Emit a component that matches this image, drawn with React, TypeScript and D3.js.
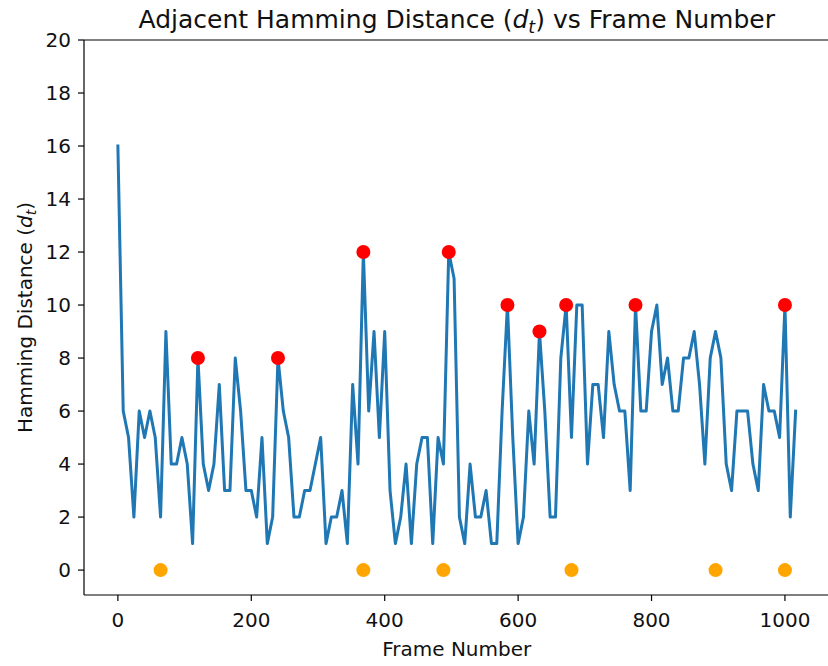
import React from "react";
import * as d3 from "d3";

// Hamming distance between adjacent sampled frames (sampled every 8 frames)
const frameStep = 8;
const hammingValues: number[] = [
  16, 6, 5, 2, 6, 5, 6, 5, 2, 9, 4, 4, 5, 4, 1, 8,
  4, 3, 4, 7, 3, 3, 8, 6, 3, 3, 2, 5, 1, 2, 8, 6,
  5, 2, 2, 3, 3, 4, 5, 1, 2, 2, 3, 1, 7, 4, 12, 6,
  9, 5, 9, 3, 1, 2, 4, 1, 4, 5, 5, 1, 5, 4, 12, 11,
  2, 1, 4, 2, 2, 3, 1, 1, 6, 10, 5, 1, 2, 6, 4, 9,
  6, 2, 2, 8, 10, 5, 10, 10, 4, 7, 7, 5, 9, 7, 6, 6,
  3, 10, 6, 6, 9, 10, 7, 8, 6, 6, 8, 8, 9, 7, 4, 8,
  9, 8, 4, 3, 6, 6, 6, 4, 3, 7, 6, 6, 5, 10, 2, 6,
];
const frames: number[] = d3.range(hammingValues.length).map((i) => i * frameStep);

const peakFrames = [120, 240, 368, 496, 584, 632, 672, 776, 1000];
const peakValues = [8, 8, 12, 12, 10, 9, 10, 10, 10];

const keyFrames = [64, 368, 488, 680, 896, 1000];
const keyValues = [0, 0, 0, 0, 0, 0];

const xTicks = [0, 200, 400, 600, 800, 1000];
const yTicks = [0, 2, 4, 6, 8, 10, 12, 14, 16, 18, 20];

const W = 828;
const H = 666;
const plot = { left: 84, right: 829.5, top: 40, bottom: 595 };
const FONT = "'DejaVu Sans', Verdana, sans-serif";

export default function App() {
  const x = d3.scaleLinear().domain([-50.8, 1066.8]).range([plot.left, plot.right]);
  const y = d3.scaleLinear().domain([-0.94, 20]).range([plot.bottom, plot.top]);

  const line = d3
    .line<number>()
    .x((_, i) => x(frames[i]))
    .y((d) => y(d));

  const tickLen = 6;
  const axisColor = "#000";

  return (
    <svg
      width={W}
      height={H}
      style={{ position: "absolute", left: 0, top: 0, background: "#fff" }}
      fontFamily={FONT}
    >
      <rect x={0} y={0} width={W} height={H} fill="#fff" />
      {/* data line */}
      <path
        d={line(hammingValues) || ""}
        fill="none"
        stroke="#1f77b4"
        strokeWidth={3}
        strokeLinejoin="round"
        strokeLinecap="square"
      />
      {/* peaks */}
      {peakFrames.map((f, i) => (
        <circle key={"p" + i} cx={x(f)} cy={y(peakValues[i])} r={7} fill="#ff0000" />
      ))}
      {/* key frames */}
      {keyFrames.map((f, i) => (
        <circle key={"k" + i} cx={x(f)} cy={y(keyValues[i])} r={7} fill="#ffa500" />
      ))}

      {/* spines */}
      <line x1={plot.left} x2={plot.left} y1={plot.top} y2={plot.bottom} stroke={axisColor} strokeWidth={1.2} />
      <line x1={plot.left} x2={plot.right} y1={plot.bottom} y2={plot.bottom} stroke={axisColor} strokeWidth={1.2} />
      <line x1={plot.left} x2={plot.right} y1={plot.top} y2={plot.top} stroke={axisColor} strokeWidth={1.2} />
      <line x1={plot.right} x2={plot.right} y1={plot.top} y2={plot.bottom} stroke={axisColor} strokeWidth={1.2} />

      {/* x ticks */}
      {xTicks.map((t) => (
        <g key={"xt" + t}>
          <line x1={x(t)} x2={x(t)} y1={plot.bottom} y2={plot.bottom + tickLen} stroke={axisColor} strokeWidth={1.2} />
          <text x={x(t)} y={627} textAnchor="middle" fontSize={20} fill="#111">
            {t}
          </text>
        </g>
      ))}
      {/* y ticks */}
      {yTicks.map((t) => (
        <g key={"yt" + t}>
          <line x1={plot.left - tickLen} x2={plot.left} y1={y(t)} y2={y(t)} stroke={axisColor} strokeWidth={1.2} />
          <text x={71} y={y(t) + 7.3} textAnchor="end" fontSize={20} fill="#111">
            {t}
          </text>
        </g>
      ))}

      {/* x label */}
      <text x={(plot.left + plot.right) / 2} y={656} textAnchor="middle" fontSize={20} fill="#111">
        Frame Number
      </text>

      {/* y label */}
      <text
        transform={`translate(32, ${(plot.top + plot.bottom) / 2}) rotate(-90)`}
        textAnchor="middle"
        fontSize={20}
        fill="#111"
      >
        Hamming Distance (<tspan fontStyle="italic">d</tspan>
        <tspan fontStyle="italic" fontSize={14} dy={4}>t</tspan>
        <tspan dy={-4}>)</tspan>
      </text>

      {/* title */}
      <text x={(plot.left + plot.right) / 2} y={28} textAnchor="middle" fontSize={25} fill="#111">
        Adjacent Hamming Distance (<tspan fontStyle="italic">d</tspan>
        <tspan fontStyle="italic" fontSize={17.5} dy={5}>t</tspan>
        <tspan dy={-5}>) vs Frame Number</tspan>
      </text>
    </svg>
  );
}
